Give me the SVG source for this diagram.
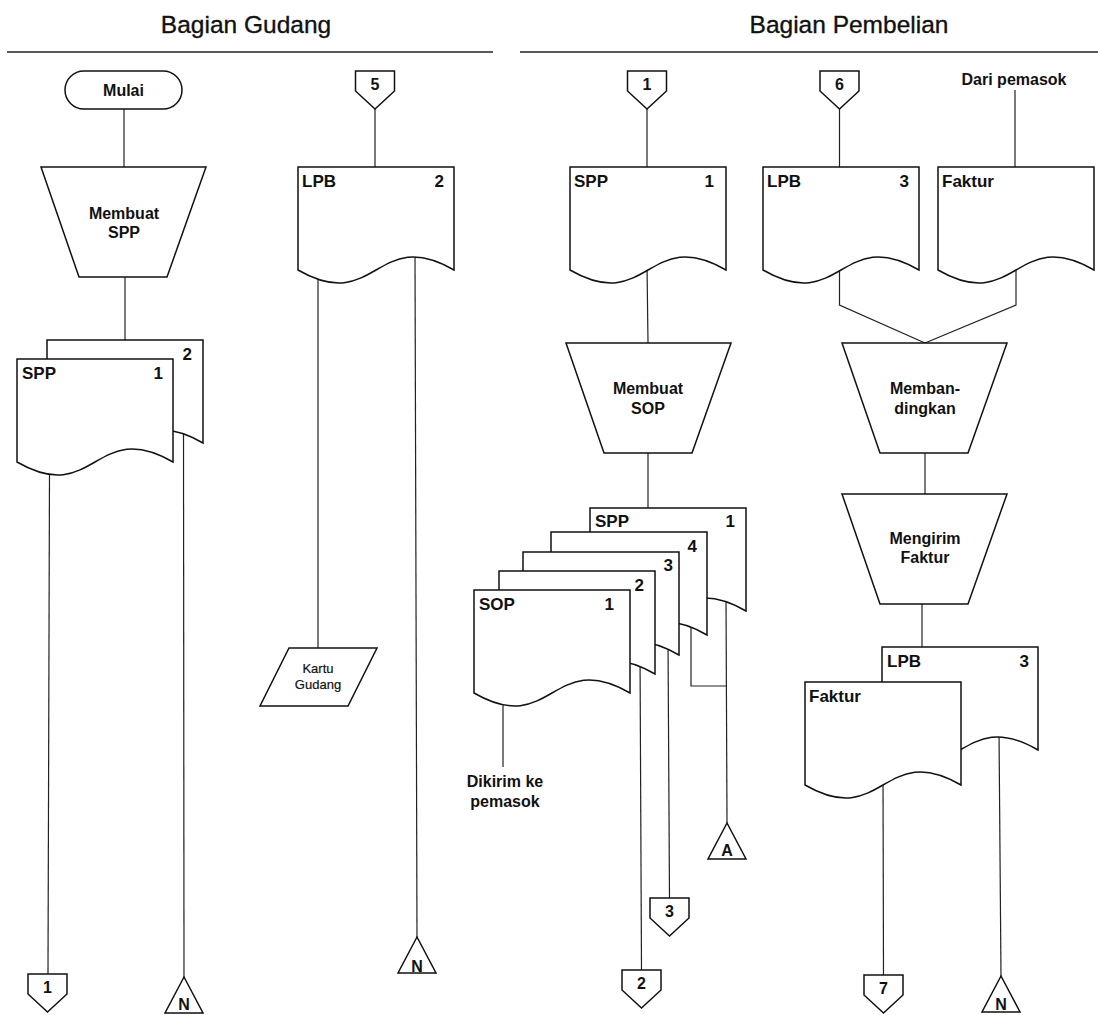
<svg xmlns="http://www.w3.org/2000/svg" width="1098" height="1015" viewBox="0 0 1098 1015">
  <style>
    .shape { fill: #fff; stroke: #111; stroke-width: 1.5; stroke-linejoin: miter; }
    .flow { fill: none; stroke: #222; stroke-width: 1.2; }
    .rule { stroke: #222; stroke-width: 1.6; }
    text { font-family: "Liberation Sans", Arial, sans-serif; fill: #111; }
    .hdr { font-size: 24.5px; text-anchor: middle; stroke: #111; stroke-width: 0.35; }
    .lbl { font-size: 16px; font-weight: bold; }
    .mid { text-anchor: middle; }
    .end { text-anchor: end; }
    .doc { font-size: 17px; font-weight: bold; }
    .con { font-size: 16px; font-weight: bold; text-anchor: middle; }
    .small { font-size: 13px; text-anchor: middle; stroke: #111; stroke-width: 0.2; }
  </style>
  <defs>
    <!-- document: 156 x 103 with wavy bottom -->
    <path id="docShape" d="M0,0 H156 V103 C78,58 78,148 0,103 Z"/>
    <!-- manual operation trapezoid -->
    <path id="manual" d="M0,0 H165 L126,110 H38 Z"/>
    <!-- off-page connector -->
    <path id="offpage" d="M-19.5,0 H19.5 V20 L0,38 L-19.5,20 Z"/>
    <!-- file (triangle) -->
    <path id="tri" d="M0,0 L19,36 H-19 Z"/>
  </defs>

  <rect width="1098" height="1015" fill="#fff"/>

  <!-- lane headers -->
  <g id="headers">
    <text class="hdr" x="246" y="33">Bagian Gudang</text>
    <line class="rule" x1="7" y1="52" x2="493" y2="52"/>
    <text class="hdr" x="849" y="33">Bagian Pembelian</text>
    <line class="rule" x1="520" y1="52" x2="1098" y2="52"/>
  </g>

  <!-- connectors -->
  <g id="connectors" class="flow">
    <line x1="124" y1="109" x2="124" y2="167"/>
    <line x1="125" y1="276" x2="125" y2="340"/>
    <line x1="49.5" y1="470" x2="48" y2="974"/>
    <line x1="183.5" y1="430" x2="184" y2="977"/>
    <line x1="375" y1="109" x2="375" y2="167"/>
    <line x1="318" y1="275" x2="318" y2="648"/>
    <line x1="415" y1="255" x2="417" y2="937"/>
    <line x1="647" y1="109" x2="647" y2="167"/>
    <line x1="647" y1="265" x2="648" y2="343"/>
    <line x1="648" y1="453" x2="648" y2="508"/>
    <line x1="839.5" y1="109" x2="839.5" y2="167"/>
    <line x1="1015" y1="90" x2="1015" y2="167"/>
    <polyline points="839.5,265 839.5,305 925,343"/>
    <polyline points="1016,265 1016,305 925,343"/>
    <line x1="925" y1="452" x2="925" y2="494"/>
    <line x1="922" y1="603" x2="922" y2="647"/>
    <line x1="503" y1="700" x2="503" y2="767"/>
    <line x1="640" y1="650" x2="641.5" y2="970"/>
    <line x1="668" y1="640" x2="669.5" y2="898"/>
    <polyline points="691,620 691,686 726.5,686"/>
    <line x1="726" y1="595" x2="727" y2="823"/>
    <line x1="883" y1="775" x2="883.5" y2="975"/>
    <line x1="999" y1="730" x2="1001" y2="976"/>
  </g>

  <!-- Bagian Gudang -->
  <g id="mulai">
    <rect class="shape" x="65" y="71" width="117" height="38" rx="19" ry="19"/>
    <text class="lbl mid" x="123.5" y="96">Mulai</text>
  </g>
  <g id="membuat-spp">
    <use href="#manual" class="shape" x="41" y="167"/>
    <text class="lbl mid" x="124" y="219">Membuat</text>
    <text class="lbl mid" x="124" y="238">SPP</text>
  </g>
  <g id="spp-gudang">
    <use href="#docShape" class="shape" x="47" y="340"/>
    <text class="doc end" x="192" y="360">2</text>
    <use href="#docShape" class="shape" x="17" y="359"/>
    <text class="doc" x="22" y="379">SPP</text>
    <text class="doc end" x="163" y="379">1</text>
  </g>
  <g id="off-1-out">
    <use href="#offpage" class="shape" x="47.5" y="974"/>
    <text class="con" x="47.5" y="993">1</text>
  </g>
  <g id="file-n-1">
    <use href="#tri" class="shape" x="184" y="977"/>
    <text class="con" x="184" y="1010">N</text>
  </g>
  <g id="off-5">
    <use href="#offpage" class="shape" x="375" y="71"/>
    <text class="con" x="375" y="90">5</text>
  </g>
  <g id="lpb-2">
    <use href="#docShape" class="shape" x="298" y="167"/>
    <text class="doc" x="302" y="187">LPB</text>
    <text class="doc end" x="444" y="187">2</text>
  </g>
  <g id="kartu-gudang">
    <path class="shape" d="M289,648 H377 L348,706 H260 Z"/>
    <text class="small" x="318" y="673">Kartu</text>
    <text class="small" x="318" y="689">Gudang</text>
  </g>
  <g id="file-n-2">
    <use href="#tri" class="shape" x="417" y="937"/>
    <text class="con" x="417" y="972">N</text>
  </g>

  <!-- Bagian Pembelian -->
  <g id="off-1-in">
    <use href="#offpage" class="shape" x="647" y="71"/>
    <text class="con" x="647" y="90">1</text>
  </g>
  <g id="off-6">
    <use href="#offpage" class="shape" x="839.5" y="71"/>
    <text class="con" x="839.5" y="90">6</text>
  </g>
  <g id="dari-pemasok">
    <text class="lbl mid" x="1014" y="85">Dari pemasok</text>
  </g>
  <g id="spp-pembelian">
    <use href="#docShape" class="shape" x="570" y="167"/>
    <text class="doc" x="574" y="187">SPP</text>
    <text class="doc end" x="714" y="187">1</text>
  </g>
  <g id="lpb-3">
    <use href="#docShape" class="shape" x="763" y="167"/>
    <text class="doc" x="767" y="187">LPB</text>
    <text class="doc end" x="909" y="187">3</text>
  </g>
  <g id="faktur-in">
    <use href="#docShape" class="shape" x="938" y="167"/>
    <text class="doc" x="942" y="187">Faktur</text>
  </g>
  <g id="membuat-sop">
    <use href="#manual" class="shape" x="566" y="343"/>
    <text class="lbl mid" x="648" y="394">Membuat</text>
    <text class="lbl mid" x="648" y="414">SOP</text>
  </g>
  <g id="membandingkan">
    <use href="#manual" class="shape" x="842" y="343"/>
    <text class="lbl mid" x="925" y="394">Memban-</text>
    <text class="lbl mid" x="925" y="414">dingkan</text>
  </g>
  <g id="mengirim-faktur">
    <use href="#manual" class="shape" x="842" y="494"/>
    <text class="lbl mid" x="925" y="544">Mengirim</text>
    <text class="lbl mid" x="925" y="563">Faktur</text>
  </g>
  <g id="sop-set">
    <use href="#docShape" class="shape" x="590" y="508"/>
    <text class="doc" x="595" y="527">SPP</text>
    <text class="doc end" x="735" y="527">1</text>
    <use href="#docShape" class="shape" x="551" y="532"/>
    <text class="doc end" x="697" y="552">4</text>
    <use href="#docShape" class="shape" x="523" y="552"/>
    <text class="doc end" x="673" y="571">3</text>
    <use href="#docShape" class="shape" x="499" y="571"/>
    <text class="doc end" x="644" y="591">2</text>
    <use href="#docShape" class="shape" x="474" y="590"/>
    <text class="doc" x="479" y="610">SOP</text>
    <text class="doc end" x="614" y="610">1</text>
  </g>
  <g id="dikirim">
    <text class="lbl mid" x="505" y="787">Dikirim ke</text>
    <text class="lbl mid" x="505" y="807">pemasok</text>
  </g>
  <g id="faktur-set">
    <use href="#docShape" class="shape" x="882" y="647"/>
    <text class="doc" x="887" y="667">LPB</text>
    <text class="doc end" x="1029" y="667">3</text>
    <use href="#docShape" class="shape" x="805" y="682"/>
    <text class="doc" x="809" y="702">Faktur</text>
  </g>
  <g id="file-a">
    <use href="#tri" class="shape" x="727" y="823"/>
    <text class="con" x="727" y="856">A</text>
  </g>
  <g id="off-3">
    <use href="#offpage" class="shape" x="669.5" y="898"/>
    <text class="con" x="669.5" y="917">3</text>
  </g>
  <g id="off-2">
    <use href="#offpage" class="shape" x="641.5" y="970"/>
    <text class="con" x="641.5" y="989">2</text>
  </g>
  <g id="off-7">
    <use href="#offpage" class="shape" x="883.5" y="975"/>
    <text class="con" x="883.5" y="994">7</text>
  </g>
  <g id="file-n-3">
    <use href="#tri" class="shape" x="1001" y="976"/>
    <text class="con" x="1001" y="1010">N</text>
  </g>
</svg>
